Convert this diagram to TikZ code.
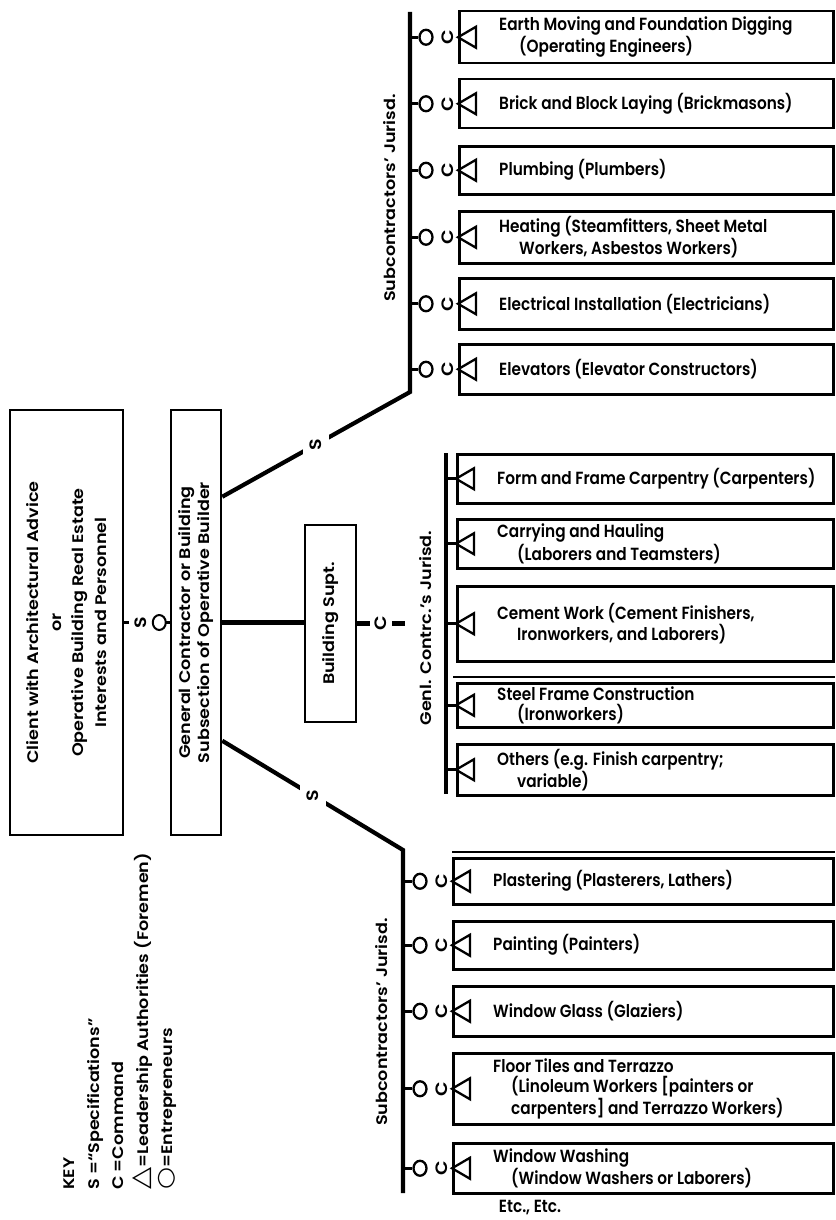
\documentclass[tikz,border=0pt]{standalone}
\usepackage{fontspec}
\setmainfont{Poppins SemiBold}
\newfontfamily\symfont{DejaVu Sans}
\usetikzlibrary{calc}

\newcommand{\chartfont}{\fontsize{15.3}{17}\selectfont}

% trade box: name, left x, top y, bottom y, text
\newcommand{\trade}[5]{%
  \node[tradebox, anchor=north west, minimum width={832pt-#2pt}, minimum height={#4pt-#3pt}] (#1) at (#2,#3) {};
  \node[tradetext] (#1t) at ([xshift=41pt]#1.west) {#5};
  \draw[foreman] (#1.west) -- ++(18,-10.5) -- ++(0,21) -- cycle;
}
% subcontracted row: trade box, coordinate on the jurisdiction line
\newcommand{\subrow}[2]{%
  \node[owner] (#1o) at ([xshift=-32pt]#1.west) {};
  \node[rotlabel, font=\fontsize{16.5}{17}\selectfont] (#1c) at ([xshift=-10.5pt]#1.west) {C};
  \draw[stub] (#1.west -| #2) -- (#1o.west);
}
% row under the general contractor: trade box, coordinate on the line
\newcommand{\genrow}[2]{%
  \draw[stub] (#1.west -| #2) -- (#1.west);
}

\begin{document}
\begin{tikzpicture}[x=1pt,y=-1pt,
  every node/.style={font=\chartfont},
  tradebox/.style={draw, line width=2.5pt, rectangle, inner sep=0pt},
  tradetext/.style={align=left, inner sep=0pt, anchor=west, yscale=1.15},
  mainbox/.style={draw, line width=2.5pt, rectangle, inner sep=0pt},
  rotlabel/.style={yscale=1.15, rotate=90, inner sep=0pt},
  gaplabel/.style={yscale=1.15, rotate=90, fill=white, inner sep=6pt, font=\fontsize{16.5}{17}\selectfont},
  jline/.style={line width=4.2pt, line join=miter},
  stub/.style={line width=2.8pt},
  owner/.style={circle, draw, line width=2.3pt, minimum size=13pt, inner sep=0pt, fill=white, yscale=1.15},
  foreman/.style={line width=2.3pt, line join=miter},
]
\useasboundingbox (0,0) rectangle (835,1220);

% principal boxes
\node[mainbox, minimum width=113pt, minimum height=425pt] (client) at (66.5,622.5) {};
\node[rotlabel, align=center, font=\fontsize{15.3}{22.5}\selectfont] (clientt) at (client.center)
  {Client with Architectural Advice\\or\\Operative Building Real Estate\\Interests and Personnel};
\node[mainbox, minimum width=50pt, minimum height=425pt] (gc) at (196,622.5) {};
\node[rotlabel, align=center, font=\fontsize{15.3}{19}\selectfont] (gct) at (gc.center)
  {General Contractor or Building\\Subsection of Operative Builder};
\node[mainbox, minimum width=51pt, minimum height=197pt] (bs) at (330.5,623.5) {};
\node[rotlabel] (bst) at (bs.center) {Building Supt.};

% client to general contractor
\draw[stub] (client.east) -- node[pos=0.36, gaplabel, inner sep=6pt] (sMain) {S}
  node[pos=0.77, owner, line width=2pt] (oMain) {} (gc.west);

% general contractor to building superintendent
\draw[jline] (gc.east) -- (gc.east -| bs.west);
\coordinate (gStub) at (405,0);
\draw[jline] (bs.east) -- node[gaplabel, inner sep=5pt] (cMain) {C} (bs.east -| gStub);

% jurisdiction lines
\coordinate (uTop) at (410,12);
\coordinate (uBend) at (410,392);
\draw[jline] (uTop) -- (uBend) -- node[gaplabel, inner sep=7pt] (sUp) {S} ([yshift=-88pt]gc.north east);
\coordinate (lBend) at (403,850);
\coordinate (lBot) at (403,1193);
\draw[jline] ([yshift=-332pt]gc.north east) -- node[gaplabel, inner sep=7pt] (sLow) {S} (lBend) -- (lBot);
\coordinate (gTop) at (446,453);
\coordinate (gBot) at (446,794);
\draw[jline] (gTop) -- (gBot);

\node[rotlabel] (uLabel) at (390,198) {Subcontractors' Jurisd.};
\node[rotlabel] (gLabel) at (426,628) {Genl. Contrc.'s Jurisd.};
\node[rotlabel] (lLabel) at (382,1022) {Subcontractors' Jurisd.};

% upper subcontractors
\trade{eMove}{458}{10}{62}{Earth Moving and Foundation Digging\\\hspace*{20pt}(Operating Engineers)}
\trade{brick}{458}{78}{127}{Brick and Block Laying (Brickmasons)}
\trade{plumb}{458}{145}{193}{Plumbing (Plumbers)}
\trade{heat}{458}{210}{262}{Heating (Steamfitters, Sheet Metal\\\hspace*{20pt}Workers, Asbestos Workers)}
\trade{elec}{458}{277}{328}{Electrical Installation (Electricians)}
\trade{elev}{458}{343}{393}{Elevators (Elevator Constructors)}
\foreach \r in {eMove,brick,plumb,heat,elec,elev} {\subrow{\r}{uTop}}

% general contractor's own trades
\trade{form}{456}{453}{502}{Form and Frame Carpentry (Carpenters)}
\trade{carry}{456}{518}{567}{Carrying and Hauling\\\hspace*{20pt}(Laborers and Teamsters)}
\trade{cement}{456}{585}{660}{Cement Work (Cement Finishers,\\\hspace*{20pt}Ironworkers, and Laborers)}
\trade{steel}{456}{682}{726}{Steel Frame Construction\\\hspace*{20pt}(Ironworkers)}
\trade{others}{456}{743}{794}{Others (e.g. Finish carpentry;\\\hspace*{20pt}variable)}
\foreach \r in {form,carry,cement,steel,others} {\genrow{\r}{gTop}}
\draw[line width=1.8pt] ([shift={(-3pt,5pt)}]steel.north west) -- ([yshift=5pt]steel.north east);

% lower subcontractors
\trade{plaster}{452}{857}{903}{Plastering (Plasterers, Lathers)}
\trade{paint}{452}{920}{968}{Painting (Painters)}
\trade{glass}{452}{985}{1035}{Window Glass (Glaziers)}
\trade{floor}{452}{1052}{1123}{Floor Tiles and Terrazzo\\\hspace*{18pt}(Linoleum Workers [painters or\\\hspace*{18pt}carpenters] and Terrazzo Workers)}
\trade{wash}{452}{1142}{1192}{Window Washing\\\hspace*{18pt}(Window Washers or Laborers)}
\foreach \r in {plaster,paint,glass,floor,wash} {\subrow{\r}{lBot}}
\draw[line width=1.8pt] ([yshift=5pt]plaster.north west) -- ([yshift=5pt]plaster.north east);

\node[yscale=1.15] (etc) at (530,1208) {Etc., Etc.};

% key
\node[rotlabel, align=left, anchor=north west, font=\fontsize{15.3}{24.5}\selectfont] (key) at (64,1190)
  {KEY\\S =``Specifications''\\C =Command\\{\symfont\fontsize{25}{20}\selectfont △}=Leadership Authorities (Foremen)\\{\symfont\fontsize{22}{20}\selectfont ○}=Entrepreneurs};
\end{tikzpicture}
\end{document}
